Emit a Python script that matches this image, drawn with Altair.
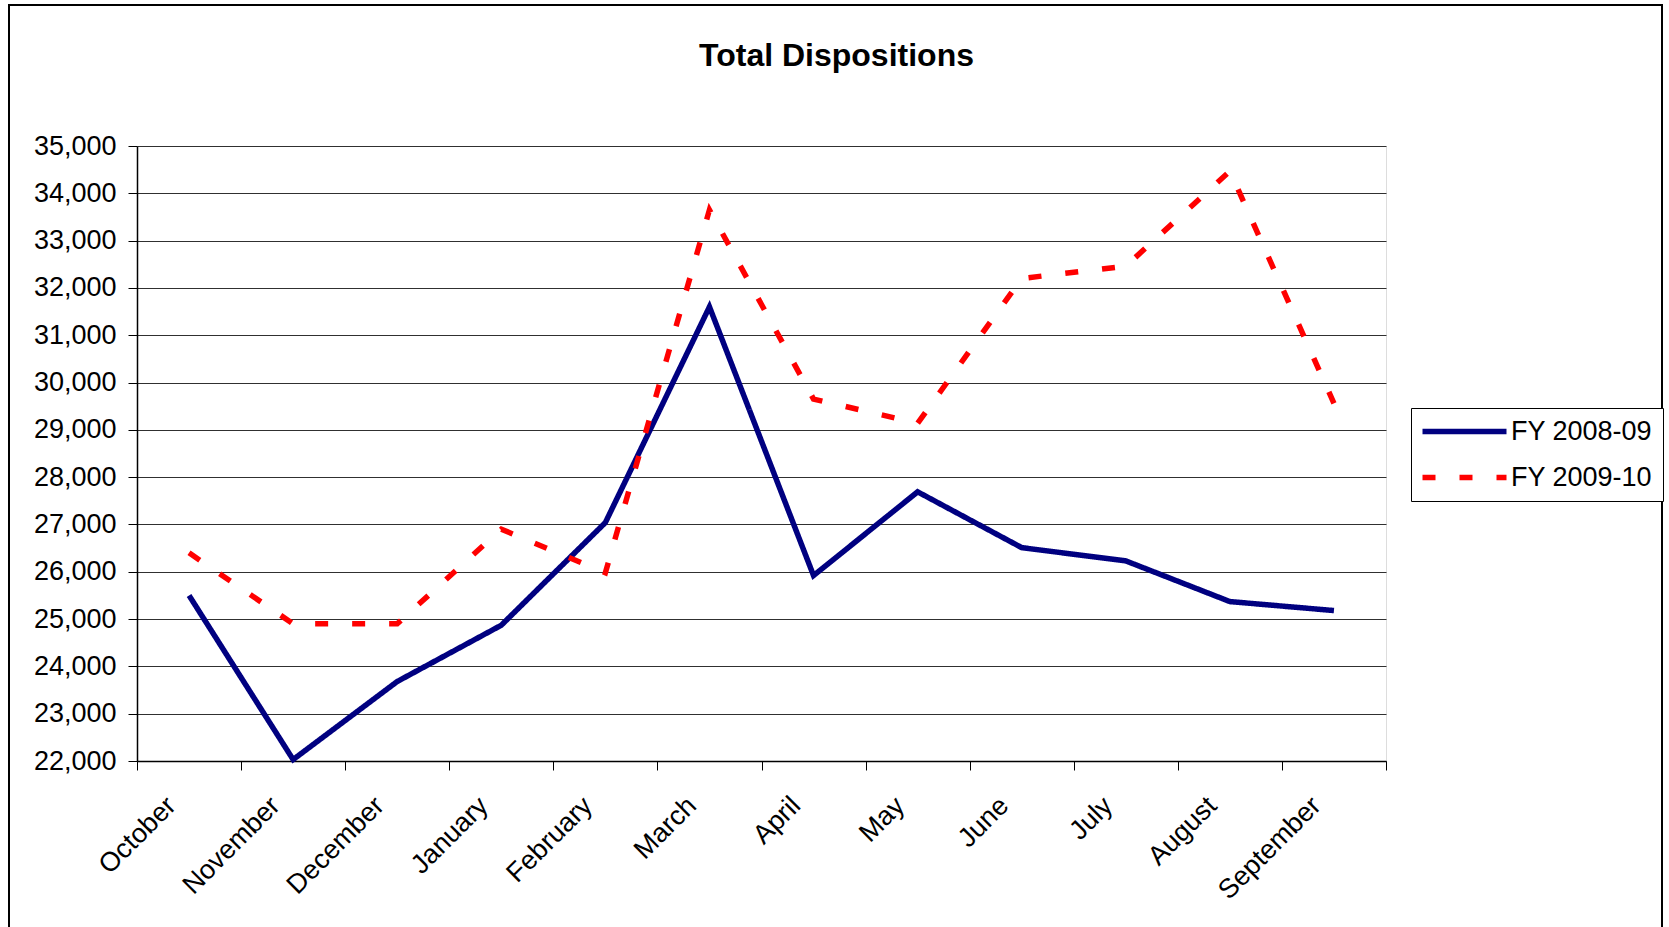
import altair as alt
import pandas as pd

months = ["October", "November", "December", "January", "February", "March",
          "April", "May", "June", "July", "August", "September"]
series_names = ["FY 2008-09", "FY 2009-10"]
fy_2008_09 = [25500, 22030, 23680, 24870, 27040, 31600, 25920, 27690, 26510, 26230, 25370, 25180]
fy_2009_10 = [26400, 24900, 24900, 26900, 25980, 33650, 29650, 29140, 32200, 32460, 34470, 29560]
y_ticks = list(range(22000, 35001, 1000))

rows = []
for name, vals in zip(series_names, [fy_2008_09, fy_2009_10]):
    for m, v in zip(months, vals):
        rows.append({"Month": m, "Series": name, "Value": v})
df = pd.DataFrame(rows)

FONT = "Liberation Sans"

legend_kw = dict(title=None, orient="none", legendX=1274, legendY=262,
                 strokeColor="black", fillColor="white",
                 padding=10, symbolType="M-4,0H4", symbolSize=441,
                 symbolStrokeWidth=5.5, symbolOffset=30, labelOffset=33,
                 labelFontSize=27, labelFont=FONT, labelColor="black",
                 rowPadding=18, labelLimit=400)

lines = alt.Chart(df).mark_line(strokeWidth=5.5).encode(
    x=alt.X("Month:O", sort=months, bandPosition=0.5,
            scale=alt.Scale(type="band", paddingInner=0, paddingOuter=0),
            axis=alt.Axis(title=None, tickBand="extent", labelAngle=-45,
                          labelAlign="right", labelBaseline="top",
                          labelFontSize=27, labelFont=FONT, labelColor="black",
                          labelPadding=22, labelOffset=-27,
                          tickSize=9, tickColor="black", domainColor="black",
                          domainWidth=1.5, grid=False)),
    y=alt.Y("Value:Q",
            scale=alt.Scale(domain=[22000, 35000], nice=False, zero=False),
            axis=alt.Axis(title=None, values=y_ticks, format=",.0f",
                          labelFontSize=27, labelFont=FONT, labelColor="black",
                          labelPadding=12, tickSize=9, tickColor="black",
                          domainColor="black", domainWidth=1.5,
                          grid=True, gridColor="#303030", gridWidth=1)),
    color=alt.Color("Series:N",
                    scale=alt.Scale(domain=series_names, range=["#000080", "#FF0000"]),
                    legend=alt.Legend(**legend_kw)),
    strokeDash=alt.StrokeDash("Series:N",
                              scale=alt.Scale(domain=series_names, range=[[1, 0], [13, 24]]),
                              legend=alt.Legend(**legend_kw)),
)

frame = alt.Chart(alt.Data(values=[{}])).mark_rect(filled=False, stroke="black", strokeWidth=2).encode(
    x=alt.value(-128), x2=alt.value(1525), y=alt.value(-141), y2=alt.value(820)
)

chart = alt.layer(lines, frame).properties(
    width=1249, height=615,
    title=alt.TitleParams("Total Dispositions", fontSize=32, fontWeight="bold", font=FONT,
                          color="black", anchor="middle", baseline="alphabetic",
                          offset=0, dy=94, dx=75),
    autosize=alt.AutoSizeParams(type="none"),
    padding={"left": 137, "top": 146, "right": 283, "bottom": 166},
).configure_view(stroke="#808080", strokeWidth=1.5).configure(background="white")

chart.save("out.html", embed_options={"renderer": "svg", "actions": False})
